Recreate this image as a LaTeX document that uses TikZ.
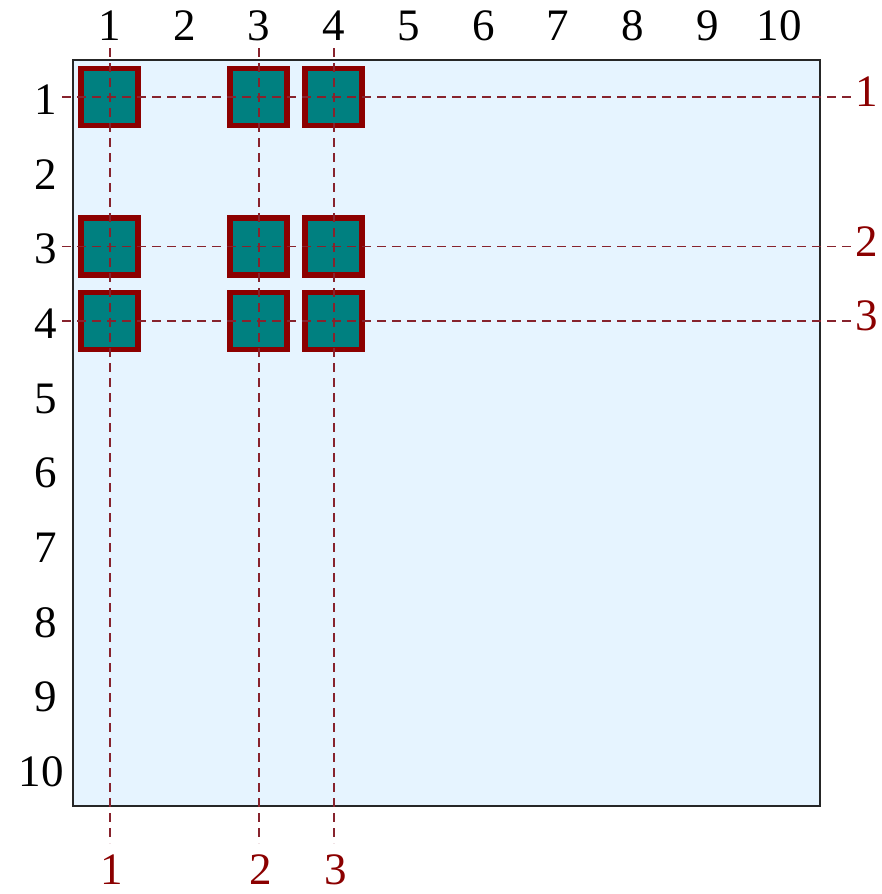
\documentclass[tikz,border=0pt]{standalone}
\usepackage{fontspec}
\setmainfont{Liberation Serif}
\definecolor{gridbg}{RGB}{230,244,255}
\definecolor{cellfill}{RGB}{0,128,128}
\definecolor{cellrim}{RGB}{140,0,0}
\definecolor{guide}{RGB}{135,35,45}
\definecolor{tagred}{RGB}{139,0,0}
\begin{document}
\begin{tikzpicture}[x=1pt,y=-1pt,
  font=\fontsize{45}{50}\selectfont,
  cell/.style={draw=cellrim, fill=cellfill, line width=5.5pt,
    minimum size=57pt, inner sep=0pt},
  idx/.style={inner sep=0pt, text=black},
  tag/.style={inner sep=0pt, text=tagred},
  guideline/.style={draw=guide, line width=1.1pt, dash pattern=on 9pt off 6pt}]
\useasboundingbox (0,0) rectangle (881,894);

% the 10x10 board
\node[draw=black!85, fill=gridbg, line width=1.5pt, minimum width=747pt,
  minimum height=746pt, inner sep=0pt, anchor=north west] (board) at (72,59) {};

% column and row indices
\foreach \c/\x in {1/110,2/185,3/259,4/334,5/409,6/484,7/558,8/633,9/708,10/779}
  \node[idx] (top\c) at (\x,26) {\c};
\foreach \r/\y/\x in {1/100/46,2/175/46,3/249/46,4/324/46,5/399/46,
                      6/473/46,7/548/46,8/623/46,9/697/46,10/772/41}
  \node[idx] (left\r) at (\x,\y) {\r};

% occupied cells: rows 1,3,4 x columns 1,3,4
\foreach \r/\y in {1/97,3/246.5,4/321}
  \foreach \c/\x in {1/109.5,3/258.5,4/333.5}
    \node[cell] (cell\r\c) at (\x,\y) {};

% selected rows
\foreach \k/\y in {1/97,2/246.5,3/321}{
  \coordinate (hs\k) at (62,\y);
  \coordinate (he\k) at (855,\y);
  \node[tag] (rtag\k) at (867,\y-5) {\k};
  \draw[guideline] (hs\k) -- (he\k);
}

% selected columns
\foreach \k/\x in {1/110,2/259,3/334}{
  \coordinate (vs\k) at (\x,48);
  \coordinate (ve\k) at (\x,843);
  \node[tag] (btag\k) at (\x+2,870) {\k};
  \draw[guideline] (vs\k) -- (ve\k);
}
\end{tikzpicture}
\end{document}
